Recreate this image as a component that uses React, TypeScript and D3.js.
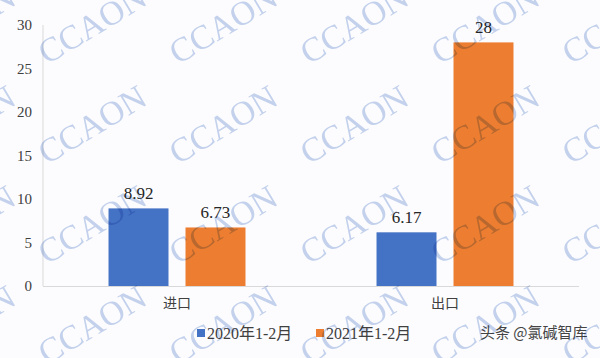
import React from "react";
import * as d3 from "d3";

const categories = ["进口", "出口"];
const seriesNames = ["2020年1-2月", "2021年1-2月"];
const series2020 = [8.92, 6.17];
const series2021 = [6.73, 28];
const yTicks = [0, 5, 10, 15, 20, 25, 30];
const colors = ["#4472c4", "#ed7d31"];

const W = 600;
const H = 358;
const M = { left: 43, right: 579, top: 25, bottom: 286 };

export default function App() {
  const x = d3.scaleBand<string>().domain(categories).range([M.left, M.right]).paddingInner(0).paddingOuter(0);
  const xs = d3
    .scaleBand<string>()
    .domain(seriesNames)
    .range([0, x.bandwidth()])
    .paddingInner(0.221)
    .paddingOuter(0.851);
  const y = d3.scaleLinear().domain([0, 30]).range([M.bottom, M.top]);
  const values = [series2020, series2021];

  const wm: { x: number; y: number }[] = [];
  for (let k = -1; k <= 4; k++) {
    for (let j = -1; j <= 3; j++) {
      wm.push({ x: 47 + 131 * k, y: 65 + 100 * j });
    }
  }

  const serif = "'Liberation Serif', 'DejaVu Serif', serif";
  const cjk = "'Noto Sans CJK SC', 'Noto Sans', sans-serif";
  const legendFont = "'Liberation Serif', 'Noto Sans CJK SC', serif";

  return (
    <svg width={W} height={H} style={{ position: "absolute", left: 0, top: 0 }}>
      <rect x={0} y={0} width={W} height={H} fill="#fcfcfe" />
      <line x1={M.left} x2={M.left} y1={M.top} y2={M.bottom} stroke="#d9d9d9" strokeWidth={1} />
      <line x1={M.left} x2={M.right} y1={M.bottom + 0.5} y2={M.bottom + 0.5} stroke="#d9d9d9" strokeWidth={1} />
      {yTicks.map((t) => (
        <text
          key={t}
          x={32}
          y={y(t)}
          dy="0.35em"
          textAnchor="end"
          fontFamily={serif}
          fontSize={15}
          fill="#404040"
        >
          {t}
        </text>
      ))}
      {categories.map((c, ci) =>
        seriesNames.map((s, si) => {
          const v = values[si][ci];
          const bx = (x(c) as number) + (xs(s) as number);
          return (
            <g key={c + s}>
              <rect x={bx} y={y(v)} width={xs.bandwidth()} height={y(0) - y(v)} fill={colors[si]} />
              <text
                x={bx + xs.bandwidth() / 2}
                y={y(v) - 9}
                textAnchor="middle"
                fontFamily={serif}
                fontSize={17}
                fill="#262626"
              >
                {String(v)}
              </text>
            </g>
          );
        })
      )}
      {categories.map((c) => (
        <text
          key={c}
          x={(x(c) as number) + x.bandwidth() / 2}
          y={308}
          textAnchor="middle"
          fontFamily={cjk}
          fontSize={14}
          fill="#404040"
        >
          {c}
        </text>
      ))}
      {seriesNames.map((s, i) => {
        const lx = [197, 316][i];
        return (
          <g key={s}>
            <rect x={lx} y={329} width={8} height={8} fill={colors[i]} />
            <text x={lx + 10} y={333} dy="0.36em" fontFamily={legendFont} fontSize={16} fill="#404040">
              {s}
            </text>
          </g>
        );
      })}
      <text x={480} y={333} dy="0.36em" fontFamily={cjk} fontSize={15} fill="#444444">
        头条 @氯碱智库
      </text>
      <g style={{ mixBlendMode: "multiply" }}>
        {wm.map((p, i) => (
          <text
            key={i}
            x={p.x}
            y={p.y}
            transform={`rotate(-31 ${p.x} ${p.y})`}
            fontFamily={serif}
            fontSize={34}
            fill="#c6d4ed"
          >
            CCAON
          </text>
        ))}
      </g>
    </svg>
  );
}
